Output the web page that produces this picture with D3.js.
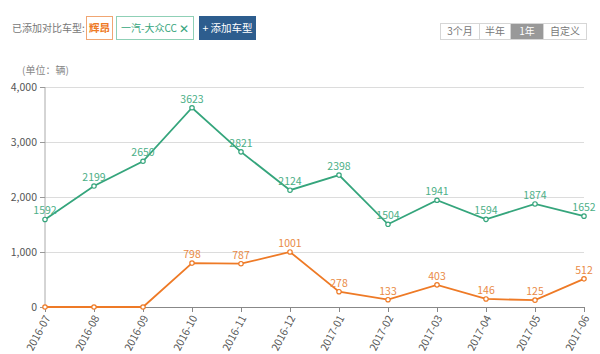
<!DOCTYPE html>
<html lang="zh">
<head>
<meta charset="UTF-8">
<title>销量对比</title>
<style>
  body { margin: 0; background: #fff; font-family: "Noto Sans CJK SC", "Noto Sans", sans-serif; }
  svg text { font-family: "Noto Sans CJK SC", "Noto Sans", sans-serif; }
  .grid line { stroke: #dcdcdc; }
  .grid path { display: none; }
</style>
</head>
<body>
<svg id="chart" width="600" height="354"></svg>
<script src="https://d3js.org/d3.v7.min.js"></script>
<script>
const months = ["2016-07","2016-08","2016-09","2016-10","2016-11","2016-12","2017-01","2017-02","2017-03","2017-04","2017-05","2017-06"];
const ccValues = [1592, 2199, 2650, 3623, 2821, 2124, 2398, 1504, 1941, 1594, 1874, 1652];
const huiangValues = [0, 0, 0, 798, 787, 1001, 278, 133, 403, 146, 125, 512];
const yTicks = [0, 1000, 2000, 3000, 4000];
const rangeTabs = ["3个月", "半年", "1年", "自定义"];

const green = "#35a57c";
const orange = "#ee7a26";

const svg = d3.select("#chart");
const margin = { top: 87, right: 16, bottom: 47, left: 45 };
const W = 600, H = 354;

const x = d3.scalePoint().domain(months).range([margin.left, W - margin.right]);
const y = d3.scaleLinear().domain([0, 4000]).range([H - margin.bottom, margin.top]);

// header controls
svg.append("text").attr("x", 12).attr("y", 32).attr("font-size", 10).attr("fill", "#777").text("已添加对比车型:");
svg.append("rect").attr("x", 86.5).attr("y", 16.5).attr("width", 26).attr("height", 23).attr("fill", "#fff").attr("stroke", "#f0a673");
svg.append("text").attr("x", 99.5).attr("y", 32).attr("text-anchor", "middle").attr("font-size", 10.5).attr("font-weight", "bold").attr("fill", orange).text("辉昂");
svg.append("rect").attr("x", 116.5).attr("y", 16.5).attr("width", 77).attr("height", 23).attr("fill", "#fff").attr("stroke", "#8fd0b6");
svg.append("text").attr("x", 121).attr("y", 32).attr("font-size", 10).attr("fill", green).text("一汽-大众CC");
svg.append("text").attr("x", 184).attr("y", 32.5).attr("text-anchor", "middle").attr("font-size", 12).attr("fill", green).text("✕");
svg.append("rect").attr("x", 199).attr("y", 16).attr("width", 57).attr("height", 24).attr("fill", "#2d5d8e");
svg.append("text").attr("x", 227.5).attr("y", 32).attr("text-anchor", "middle").attr("font-size", 10.5).attr("fill", "#fff").text("+ 添加车型");

const tabW = [39, 31, 33, 43];
let tx = 440.5;
rangeTabs.forEach((t, i) => {
  const active = i === 2;
  svg.append("rect").attr("x", tx).attr("y", 23.5).attr("width", tabW[i]).attr("height", 16)
    .attr("fill", active ? "#999" : "#fff").attr("stroke", "#d6d6d6");
  svg.append("text").attr("x", tx + tabW[i] / 2).attr("y", 35).attr("text-anchor", "middle")
    .attr("font-size", 10).attr("fill", active ? "#fff" : "#777").text(t);
  tx += tabW[i];
});

svg.append("text").attr("x", 22).attr("y", 74).attr("font-size", 10).attr("fill", "#888").text("(单位：辆)");

// grid
svg.append("g").attr("class", "grid")
  .attr("transform", `translate(${margin.left},0)`)
  .call(d3.axisRight(y).tickValues(yTicks.slice(1)).tickSize(W - margin.right - margin.left).tickFormat(""));

// y axis
const yAxis = svg.append("g").attr("transform", `translate(${margin.left},0)`)
  .call(d3.axisLeft(y).tickValues(yTicks).tickSize(5).tickPadding(3).tickFormat(d3.format(",")));
yAxis.selectAll("line").attr("stroke", "#999");
yAxis.select(".domain").attr("stroke", "#aaa").attr("d", `M0,${y(4000)}V${y(0)}`);
yAxis.selectAll("text").attr("font-size", 10.5).attr("fill", "#555");

// x axis
const xAxis = svg.append("g").attr("transform", `translate(0,${y(0)})`)
  .call(d3.axisBottom(x).tickSize(5).tickSizeOuter(0));
xAxis.select(".domain").attr("stroke", "#888");
xAxis.selectAll("line").attr("stroke", "#888");
xAxis.selectAll("text")
  .attr("font-size", 10.5).attr("fill", "#555")
  .attr("text-anchor", "end")
  .attr("x", 0).attr("y", 0).attr("dx", 0).attr("dy", "0.35em")
  .attr("transform", "translate(2,9) rotate(-62)");

const line = d3.line().x((d, i) => x(months[i])).y(d => y(d));

function drawSeries(values, color, labelColor, skipZero) {
  const pts = values.map((v, i) => ({ m: months[i], v }));
  svg.append("path").datum(values).attr("fill", "none").attr("stroke", color).attr("stroke-width", 1.8).attr("d", line);
  svg.append("g").selectAll("circle").data(pts).join("circle")
    .attr("cx", d => x(d.m)).attr("cy", d => y(d.v)).attr("r", 2.2)
    .attr("fill", "#fff").attr("stroke", color).attr("stroke-width", 1.2);
  svg.append("g").selectAll("text").data(pts.filter(d => !(skipZero && d.v === 0))).join("text")
    .attr("x", d => x(d.m)).attr("y", d => y(d.v) - 5)
    .attr("text-anchor", "middle").attr("font-size", 10.5).attr("fill", labelColor)
    .text(d => d.v);
}

drawSeries(ccValues, green, "#4caf87", false);
drawSeries(huiangValues, orange, "#e98a45", true);
</script>
</body>
</html>
